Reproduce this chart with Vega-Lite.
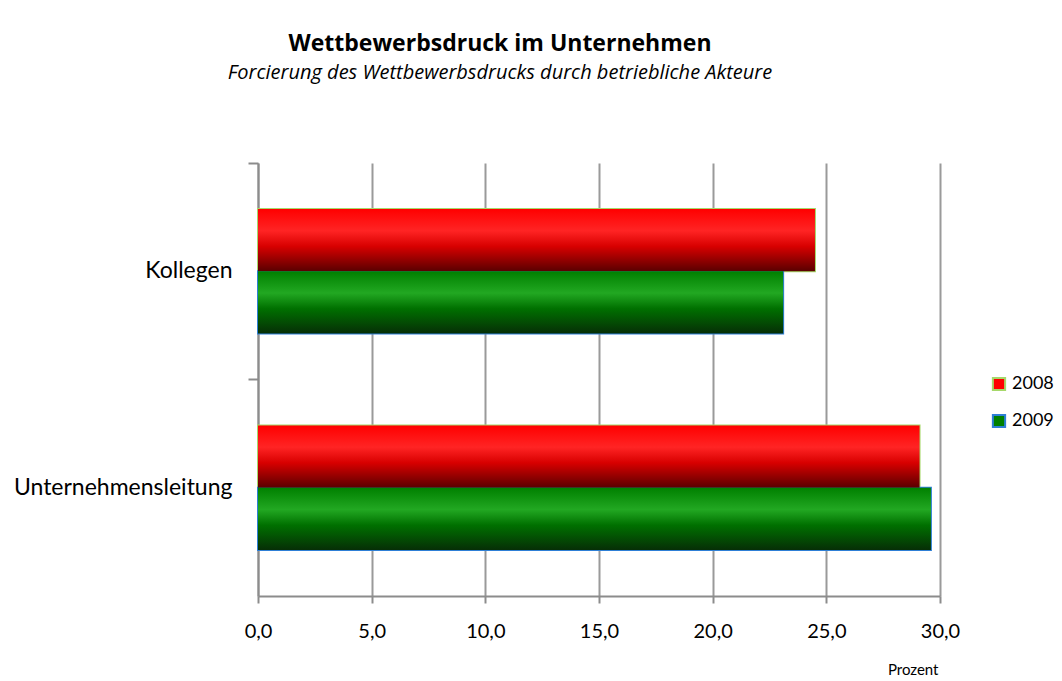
{
  "$schema": "https://vega.github.io/schema/vega-lite/v6.json",
  "autosize": "none",
  "width": 682,
  "height": 433,
  "padding": {"left": 258, "top": 163, "right": 122, "bottom": 85},
  "background": "white",
  "title": {
    "text": "Wettbewerbsdruck im Unternehmen",
    "subtitle": "Forcierung des Wettbewerbsdrucks durch betriebliche Akteure",
    "font": "Open Sans",
    "fontSize": 23,
    "fontWeight": "bold",
    "color": "#000000",
    "subtitleFont": "Open Sans",
    "subtitleFontSize": 20,
    "subtitleFontStyle": "italic",
    "subtitleColor": "#000000",
    "subtitlePadding": 7,
    "anchor": "middle",
    "dx": -99,
    "offset": 79
  },
  "data": {
    "values": [
      {"cat": "Kollegen", "year": "2008", "value": 24.5},
      {"cat": "Kollegen", "year": "2009", "value": 23.1},
      {"cat": "Unternehmensleitung", "year": "2008", "value": 29.1},
      {"cat": "Unternehmensleitung", "year": "2009", "value": 29.6}
    ]
  },
  "encoding": {
    "y": {
      "field": "cat",
      "type": "nominal",
      "sort": ["Kollegen", "Unternehmensleitung"],
      "scale": {"paddingInner": 0, "paddingOuter": 0},
      "axis": {
        "title": null,
        "bandPosition": 0,
        "labelFont": "Lato",
        "labelFontSize": 23,
        "labelLimit": 0,
        "labelColor": "#000000",
        "labelPadding": 16,
        "tickSize": 10,
        "tickColor": "#8c8c8c",
        "tickWidth": 2,
        "domainColor": "#8c8c8c",
        "domainWidth": 2,
        "grid": false,
        "labelBaseline": "middle"
      }
    },
    "yOffset": {
      "field": "year",
      "type": "nominal",
      "scale": {"paddingInner": 0, "paddingOuter": 0.736}
    },
    "x": {
      "field": "value",
      "type": "quantitative",
      "scale": {"domain": [0, 30], "nice": false},
      "axis": {
        "title": "Prozent",
        "titleFont": "Lato",
        "titleFontSize": 15,
        "titleFontWeight": "normal",
        "titleColor": "#000000",
        "titleAnchor": "end",
        "titleAlign": "right",
        "titleX": 680,
        "titlePadding": 21,
        "values": [0, 5, 10, 15, 20, 25, 30],
        "labelExpr": "replace(format(datum.value, '.1f'), '.', ',')",
        "labelFlush": false,
        "labelFont": "Lato",
        "labelFontSize": 20,
        "labelColor": "#000000",
        "labelPadding": 18,
        "tickSize": 7,
        "tickColor": "#8c8c8c",
        "tickWidth": 2,
        "domainColor": "#8c8c8c",
        "domainWidth": 2,
        "grid": true,
        "gridColor": "#9a9a9a",
        "gridWidth": 2
      }
    }
  },
  "layer": [
    {
      "mark": {"type": "bar", "strokeWidth": 2},
      "encoding": {
        "fill": {
          "field": "year",
          "type": "nominal",
          "scale": {"domain": ["2008", "2009"], "range": ["#ff0000", "#008000"]},
          "legend": {
            "title": null,
            "orient": "none",
            "legendX": 732,
            "legendY": 212,
            "symbolType": "square",
            "symbolSize": 150,
            "symbolStrokeWidth": 2,
            "symbolOpacity": 1,
            "labelFont": "Lato",
            "labelFontSize": 18,
            "labelColor": "#000000",
            "rowPadding": 15,
            "labelOffset": 4
          }
        },
        "stroke": {
          "field": "year",
          "type": "nominal",
          "scale": {"domain": ["2008", "2009"], "range": ["#a6d86a", "#2e7fd6"]}
        },
        "opacity": {"value": 1}
      }
    },
    {
      "mark": {"type": "bar", "strokeWidth": 0},
      "encoding": {
        "fill": {
          "condition": {
            "test": "datum.year === '2008'",
            "value": {
              "gradient": "linear", "x1": 0, "y1": 0, "x2": 0, "y2": 1,
              "stops": [
                {"offset": 0, "color": "#ff0000"},
                {"offset": 0.35, "color": "#ff2424"},
                {"offset": 0.6, "color": "#d80000"},
                {"offset": 1, "color": "#5a0000"}
              ]
            }
          },
          "value": {
            "gradient": "linear", "x1": 0, "y1": 0, "x2": 0, "y2": 1,
            "stops": [
              {"offset": 0, "color": "#008000"},
              {"offset": 0.35, "color": "#22a822"},
              {"offset": 0.6, "color": "#007000"},
              {"offset": 1, "color": "#062e06"}
            ]
          }
        },
        "opacity": {"value": 1}
      }
    }
  ],
  "config": {"view": {"stroke": null}}
}
